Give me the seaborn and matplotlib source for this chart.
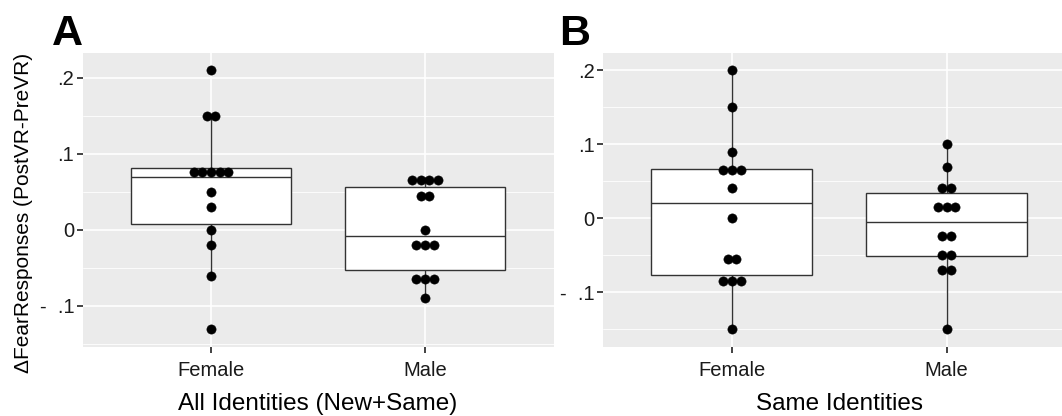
import numpy as np
import pandas as pd
import matplotlib
matplotlib.use("Agg")
import matplotlib.pyplot as plt
import seaborn as sns

# Values (change in fear responses, PostVR - PreVR)
groups = ["Female", "Male"]
female_all = [0.21, 0.151, 0.149, 0.081, 0.08, 0.075, 0.07, 0.07, 0.05, 0.03, 0.0, -0.02, -0.06, -0.13]
male_all = [0.07, 0.067, 0.063, 0.06, 0.047, 0.043, 0.0, -0.017, -0.02, -0.023, -0.062, -0.065, -0.068, -0.09]
female_same = [0.2, 0.15, 0.09, 0.067, 0.065, 0.063, 0.041, 0.001, -0.053, -0.056, -0.083, -0.085, -0.087, -0.15]
male_same = [0.1, 0.07, 0.042, 0.04, 0.019, 0.015, 0.012, -0.022, -0.027, -0.048, -0.052, -0.068, -0.072, -0.15]

ytick_vals = [-0.1, 0, 0.1, 0.2]
ytick_labels = ["-  .1", "0", ".1", ".2"]
yminor_vals = [-0.15, -0.05, 0.05, 0.15]
panel_letters = ["A", "B"]
xtitles = ["All Identities (New+Same)", "Same Identities"]
ytitle = "\u0394FearResponses (PostVR-PreVR)"

sns.set_style("darkgrid", {"axes.facecolor": "#EBEBEB", "grid.color": "white",
                           "text.color": "black"})
plt.rcParams["font.family"] = ["Liberation Sans", "DejaVu Sans"]

W, H = 1062, 416
fig = plt.figure(figsize=(W / 100, H / 100), dpi=100)

# panel boxes in pixels: left, top, width, height (panel B runs past the right edge)
panels = [(82.5, 52.7, 471, 294), (603, 52.7, 472.6, 294)]
ylims = [(-0.1536, 0.2330), (-0.1735, 0.2238)]
xlim = (-0.6, 1.6)


def dot_bins(vals, bw):
    # greedy dot-density binning, like ggplot's geom_dotplot
    v = np.sort(np.asarray(vals))
    out = []
    i = 0
    while i < len(v):
        j = i
        while j + 1 < len(v) and v[j + 1] < v[i] + bw:
            j += 1
        out.append(((v[i] + v[j]) / 2, j - i + 1))
        i = j + 1
    return out


datasets = [(female_all, male_all), (female_same, male_same)]

for k, (fem, mal) in enumerate(datasets):
    left, top, pw, ph = panels[k]
    ax = fig.add_axes([left / W, 1 - (top + ph) / H, pw / W, ph / H])

    df = pd.DataFrame({"sex": ["Female"] * len(fem) + ["Male"] * len(mal),
                       "value": fem + mal})

    sns.boxplot(data=df, x="sex", y="value", order=groups, width=0.75,
                color="white", linecolor="#333333", linewidth=1.0,
                showcaps=False, showfliers=False, ax=ax)

    # dot stacks centred on each category
    lo, hi = ylims[k]
    allv = fem + mal
    bw = (max(allv) - min(allv)) / 30
    px_per_y = ph / (hi - lo)
    px_per_x = pw / (xlim[1] - xlim[0])
    diam_px = bw * px_per_y
    step = diam_px / px_per_x
    xs, ys = [], []
    for gi, vals in enumerate([fem, mal]):
        for c, n in dot_bins(vals, bw):
            for j in range(n):
                xs.append(gi + (j - (n - 1) / 2) * step)
                ys.append(c)
    dots = pd.DataFrame({"x": xs, "y": ys})
    d_pt = (diam_px + 0.6) * 72 / 100
    sns.scatterplot(data=dots, x="x", y="y", color="black", edgecolor="black",
                    linewidth=0.4, s=d_pt ** 2, legend=False, zorder=3, ax=ax)

    ax.set_xlim(*xlim)
    ax.set_ylim(lo, hi)
    ax.set_xticks([0, 1])
    ax.set_xticklabels(groups)
    ax.set_yticks(ytick_vals)
    ax.set_yticklabels(ytick_labels)
    ax.set_yticks(yminor_vals, minor=True)
    ax.set_axisbelow(True)
    ax.grid(True, which="major", color="white", linewidth=1.2)
    ax.grid(True, which="minor", axis="y", color="white", linewidth=0.6)
    for s in ax.spines.values():
        s.set_visible(False)
    ax.tick_params(which="major", bottom=True, left=True, length=4, width=1.3,
                   color="#333333", labelsize=14.5, labelcolor="#1a1a1a", pad=2)
    ax.tick_params(axis="x", pad=6)
    ax.tick_params(which="minor", length=0)
    ax.set_ylabel("")
    ax.set_xlabel(xtitles[k], fontsize=17.5, color="black", labelpad=9.5)

    fig.text((left - 31) / W if k == 0 else (left - 44) / W, 1 - 45 / H, panel_letters[k],
             fontsize=31, fontweight="bold", color="black", ha="left", va="baseline")

fig.text(24 / W, 1 - 212.5 / H, ytitle, rotation=90, ha="center", va="center",
         fontsize=15, color="black")

fig.savefig("out.png", dpi=100)
